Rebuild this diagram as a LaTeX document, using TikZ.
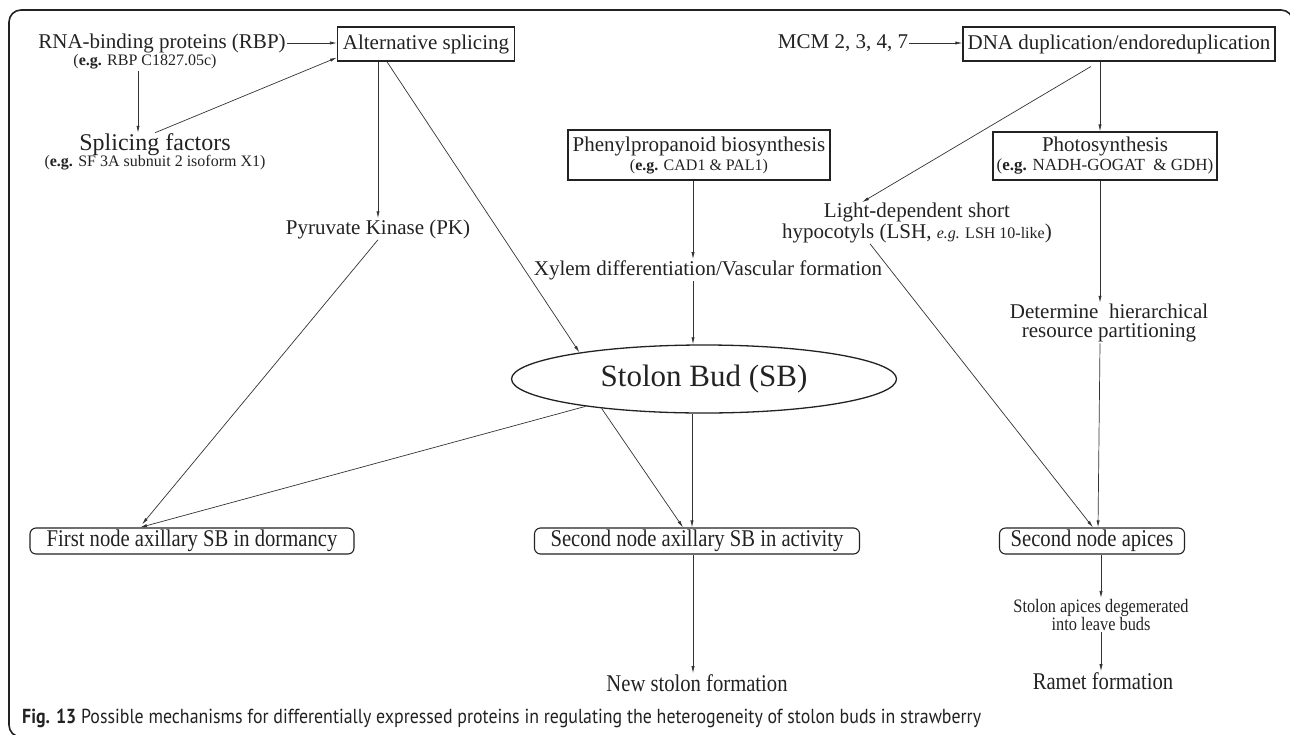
\documentclass[tikz,border=0pt]{standalone}
\usepackage{fontspec}
\setmainfont{Liberation Serif}
\newfontfamily\narrowserif[FakeStretch=0.86]{Liberation Serif}
\newfontfamily\capfont[FakeStretch=0.88]{PT Sans}
\usetikzlibrary{arrows.meta,shapes.geometric,calc}
\definecolor{ink}{HTML}{222222}
\definecolor{lin}{HTML}{333333}
\tikzset{
  txt/.style={inner sep=1pt, text=ink, font=\fontsize{21}{19}\selectfont, align=center},
  subt/.style={inner sep=1pt, text=ink, font=\fontsize{16}{18}\selectfont},
  box/.style={draw=ink, line width=1.1pt, inner sep=3pt, text=ink, align=center, font=\fontsize{21}{20}\selectfont},
  rbox/.style={draw=ink, line width=1.1pt, rounded corners=6pt, inner sep=2pt, text=ink, font=\narrowserif\fontsize{24}{24}\selectfont},
  arr/.style={-{Latex[length=7pt,width=3.2pt]}, line width=0.7pt, draw=lin},
  frame/.style={draw=ink, line width=1.6pt, rounded corners=12pt},
}
\newcommand{\eg}{\textbf{e.g.}}
\begin{document}
\begin{tikzpicture}[x=1pt,y=-1pt]
\useasboundingbox (0,0) rectangle (1290,734);
\draw[frame] (1293,40) -- (1293,10) -- (9,10) -- (9,737) -- (40,737);

% top row
\node[txt] (rbp) at (162,43) {RNA-binding proteins (RBP)};
\node[subt] (rbpsub) at (145,62) {(\eg{} RBP C1827.05c)};
\node[box, minimum width=177, minimum height=34] (as) at (426,44) {Alternative splicing};
\node[txt] (mcm) at (843,43) {MCM 2, 3, 4, 7};
\node[box, minimum width=312, minimum height=34] (dna) at (1119,44) {DNA duplication/endoreduplication};

\node[txt, font=\fontsize{24}{20}\selectfont] (sf) at (155,145) {Splicing factors};
\node[subt] (sfsub) at (155,163) {(\eg{} SF 3A subnuit 2 isoform X1)};

\node[box, minimum width=262, minimum height=50] (phen) at (699,155)
  {Phenylpropanoid biosynthesis\\[-1pt]{\fontsize{16}{18}\selectfont(\eg{} CAD1 \& PAL1)}};
\node[box, minimum width=224, minimum height=48] (photo) at (1105,156)
  {Photosynthesis\\[-1pt]{\fontsize{17}{18}\selectfont(\eg{} NADH-GOGAT\ \ \& GDH)}};

\node[txt] (pk) at (378,229) {Pyruvate Kinase (PK)};
\node[txt] (xylem) at (708,270) {Xylem differentiation/Vascular formation};
\node[txt] (lsh) at (917,223) {Light-dependent short\\hypocotyls (LSH, {\fontsize{16}{18}\selectfont\textit{e.g.} LSH 10-like})};
\node[txt] (det) at (1109,323) {Determine\ \ hierarchical\\resource partitioning};

\node[ellipse, draw=ink, line width=1.3pt, minimum width=385, minimum height=68, inner sep=0pt,
  text=ink, font=\fontsize{31}{31}\selectfont] (sb) at (704,379) {Stolon Bud (SB)};

% bottom boxes
\node[rbox, minimum width=324, minimum height=26] (first) at (192,541) {First node axillary SB in dormancy};
\node[rbox, minimum width=325, minimum height=26] (second) at (697,541) {Second node axillary SB in activity};
\node[rbox, minimum width=185, minimum height=26] (apices) at (1092,541) {Second node apices};

\node[txt, font=\narrowserif\fontsize{24}{20}\selectfont] (newst) at (697,683) {New stolon formation};
\node[txt, font=\narrowserif\fontsize{19}{15}\selectfont] (stap) at (1101,615) {Stolon apices degemerated\\into leave buds};
\node[txt, font=\narrowserif\fontsize{24}{20}\selectfont] (ramet) at (1103,681) {Ramet formation};

\node[anchor=west, inner sep=0pt, text=ink, font=\capfont\fontsize{20.3}{22}\selectfont] (cap) at (22,718)
  {\textbf{Fig. 13} Possible mechanisms for differentially expressed proteins in regulating the heterogeneity of stolon buds in strawberry};

% connectors
\draw[arr] (rbp.east) -- (rbp.east -| as.west);
\draw[arr] ([xshift=-7pt]rbpsub.south) -- ([xshift=-7pt]rbpsub.south |- sf.north);
\draw[arr] (sf.north) -- ([yshift=4pt]as.south west);
\draw[arr] (pk.north |- as.south) -- (pk.north);
\draw[arr] ($(as.south west)!0.28!(as.south east)$) -- (sb.168);
\draw[arr] (pk.south) -- ([xshift=-50pt,yshift=3pt]first.north);
\draw[arr] (sb.193) -- ([xshift=-52pt]first.north);
\draw[arr] (sb.196) -- ([xshift=-14pt]second.north);
\draw[arr] ([xshift=-5pt]second.north |- sb.south) -- ([xshift=-5pt]second.north);
\draw[arr] ([xshift=-6pt]phen.south) -- ([xshift=-6pt]phen.south |- xylem.north);
\draw[arr] ([xshift=-6pt]phen.south |- xylem.south) -- ([xshift=-6pt]phen.south |- sb.north);
\draw[arr] (mcm.east) -- (mcm.east -| dna.west);
\draw[arr] ([xshift=-5pt]photo.north |- dna.south) -- ([xshift=-5pt]photo.north);
\draw[arr] ($(dna.south west)!0.41!(dna.south east)+(0,5)$) -- ([xshift=-55pt]lsh.north);
\draw[arr] ([xshift=-47pt]lsh.south) -- ([xshift=1pt]apices.north);
\draw[arr] ([xshift=-5pt]photo.south) -- ([xshift=-5pt]photo.south |- det.north);
\draw[arr] ([xshift=-5pt]photo.south |- det.south) -- ([xshift=6pt]apices.north);
\draw[arr] ([xshift=9pt]apices.south) -- ([xshift=9pt]apices.south |- stap.north);
\draw[arr] ([xshift=9pt]apices.south |- stap.south) -- ([xshift=9pt]apices.south |- ramet.north);
\draw[arr] ([xshift=-4pt]second.south) -- ([xshift=-4pt]second.south |- newst.north);
\end{tikzpicture}
\end{document}
